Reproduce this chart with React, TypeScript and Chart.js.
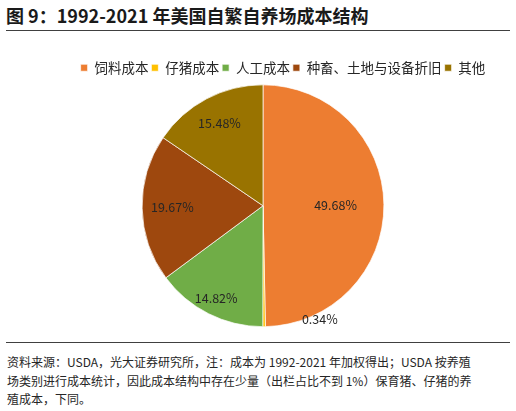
import { useEffect, useRef } from "react"
import { Chart, registerables } from "chart.js"

Chart.register(...registerables)

const categories = ["饲料成本", "仔猪成本", "人工成本", "种畜、土地与设备折旧", "其他"]
const shares = [49.68, 0.34, 14.82, 19.67, 15.48]
const colors = ["#ED7D31", "#FFC000", "#70AD47", "#9E480E", "#997300"]

const FONT = "'Noto Sans CJK SC', 'Noto Sans', sans-serif"

// radial position of each percentage label (fraction of radius)
const labelRadius = [0.6, 1.05, 0.86, 0.75, 0.77]

const pctLabels = {
  id: "pctLabels",
  afterDatasetsDraw(chart: Chart) {
    const ctx = chart.ctx
    const meta = chart.getDatasetMeta(0)
    ctx.save()
    ctx.font = `12.5px ${FONT}`
    ctx.fillStyle = "#262626"
    ctx.textAlign = "center"
    ctx.textBaseline = "middle"
    meta.data.forEach((el: any, i: number) => {
      const { x, y, startAngle, endAngle, outerRadius } = el
      let lx: number
      let ly: number
      if (i === 1) {
        // tiny slice: label sits outside, below-right of the pie
        lx = x + outerRadius * 0.47
        ly = y + outerRadius * 0.94
      } else {
        const mid = (startAngle + endAngle) / 2
        lx = x + Math.cos(mid) * outerRadius * labelRadius[i]
        ly = y + Math.sin(mid) * outerRadius * labelRadius[i]
      }
      ctx.fillText(shares[i].toFixed(2) + "%", lx, ly)
    })
    ctx.restore()
  },
}

// the legend in the original sits a bit right of the pie's centre line
const legendShift = {
  id: "legendShift",
  beforeDraw(chart: Chart) {
    const lg: any = chart.legend
    if (!lg || lg._shifted) return
    lg.left += 20
    lg.right += 20
    lg._shifted = true
  },
}

function PieChart() {
  const canvasRef = useRef<HTMLCanvasElement>(null)

  useEffect(() => {
    if (!canvasRef.current) return
    const chart = new Chart(canvasRef.current, {
      type: "pie",
      data: {
        labels: categories,
        datasets: [
          {
            data: shares,
            backgroundColor: colors,
            borderColor: "#ffffff",
            borderWidth: 0.7,
          },
        ],
      },
      options: {
        responsive: false,
        animation: false,
        layout: { padding: { left: 10, top: 2, bottom: 0 } },
        plugins: {
          legend: {
            position: "top",
            labels: {
              boxWidth: 7,
              boxHeight: 7,
              padding: 3,
              color: "#262626",
              font: { family: FONT, size: 13.5 },
            },
          },
          tooltip: { enabled: false },
        },
      },
      plugins: [legendShift, pctLabels],
    })
    return () => chart.destroy()
  }, [])

  return <canvas ref={canvasRef} width={516} height={271} style={{ position: "absolute", left: 0, top: 56 }} />
}

export default function App() {
  return (
    <div style={{ position: "absolute", left: 0, top: 0, width: 516, height: 411, background: "#fff", fontFamily: FONT, overflow: "hidden" }}>
      <div style={{ position: "absolute", left: 6, top: 2, fontSize: 18, fontWeight: 700, color: "#1a1a1a", whiteSpace: "nowrap" }}>
        图 9：1992-2021 年美国自繁自养场成本结构
      </div>
      <div style={{ position: "absolute", left: 6, top: 30, width: 504, height: 1, background: "#404040" }} />
      <PieChart />
      <div style={{ position: "absolute", left: 6, top: 342, width: 504, height: 1, background: "#404040" }} />
      <div style={{ position: "absolute", left: 7, top: 353, fontSize: 12, lineHeight: "18.5px", color: "#262626", whiteSpace: "nowrap" }}>
        资料来源：USDA，光大证券研究所，注：成本为 1992-2021 年加权得出；USDA 按养殖
        <br />
        场类别进行成本统计，因此成本结构中存在少量（出栏占比不到 1%）保育猪、仔猪的养
        <br />
        殖成本，下同。
      </div>
    </div>
  )
}
